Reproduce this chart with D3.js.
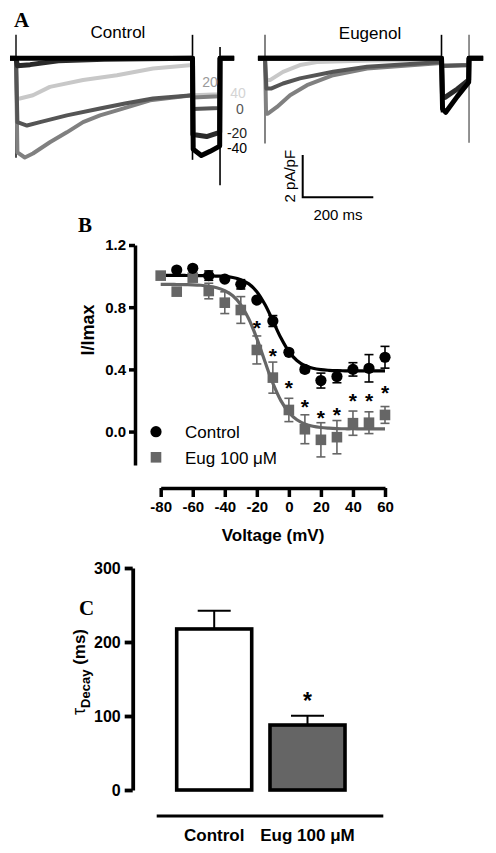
<!DOCTYPE html>
<html><head><meta charset="utf-8">
<script src="https://cdn.jsdelivr.net/npm/d3@7"></script>
<style>
body{margin:0;background:#fff}
svg{display:block}
text{font-family:"Liberation Sans",Arial,sans-serif}
</style>
</head><body>
<svg id="chart" width="496" height="853"></svg>
<script>
// ================= DATA =================
// Panel A: current traces (time in ms, current in pA/pF)
const traceLabels = ["40", "20", "0", "-20", "-40"];
const traceColors = ["#c8c8c8", "#808080", "#555555", "#2a2a2a", "#000000"];
const labelColors = ["#d4d4d4", "#9a9a9a", "#555555", "#222222", "#000000"];

const ctrlTraces = [
  [[-17,0],[0,0],[3,-1.9],[11,-1.9],[48,-1.75],[96,-1.35],[190,-1.03],[286,-0.8],[388,-0.48],[500,-0.32],[501,-1.75],[577,-1.7],[578,0],[618,0]],
  [[-17,0],[0,0],[4,-4.45],[25,-4.69],[48,-4.5],[96,-3.97],[144,-3.5],[190,-3.02],[238,-2.7],[286,-2.46],[380,-1.99],[500,-1.75],[501,-1.85],[577,-1.8],[578,0],[618,0]],
  [[-17,0],[0,0],[4,-3.02],[31,-3.18],[68,-3.02],[144,-2.7],[238,-2.37],[309,-2.14],[388,-1.9],[500,-1.75],[501,-2.4],[577,-2.35],[578,0],[618,0]],
  [[-17,0],[0,0],[4,-0.35],[40,-0.3],[120,-0.12],[250,-0.05],[500,0],[501,-3.6],[540,-3.7],[577,-3.5],[578,0],[618,0]],
  [[-17,0],[0,0],[500,0],[502,-4.3],[525,-4.6],[550,-4.4],[577,-4.15],[578,0],[618,0]]
];
const eugTraces = [
  [[-20,0],[0,0],[4,-1.03],[14,-1.03],[51,-0.64],[99,-0.32],[147,-0.18],[300,-0.1],[500,-0.08],[501,-0.32],[577,-0.3],[578,0],[618,0]],
  [[-20,0],[0,0],[3,-2.62],[8,-2.62],[34,-2.3],[71,-1.75],[119,-1.27],[193,-0.8],[289,-0.48],[500,-0.22],[501,-0.35],[577,-0.3],[578,0],[618,0]],
  [[-20,0],[0,0],[4,-1.43],[17,-1.43],[51,-1.19],[99,-0.95],[193,-0.64],[289,-0.4],[500,-0.18],[501,-0.37],[577,-0.33],[578,0],[618,0]],
  [[-20,0],[0,0],[500,0],[503,-1.8],[510,-1.85],[545,-1.45],[577,-1.03],[578,0],[618,0]],
  [[-20,0],[0,0],[500,0],[503,-2.4],[512,-2.55],[545,-1.8],[577,-1.13],[578,0],[618,0]]
];
// capacitive transients: [time, top current, bottom current]
const ctrlTransients = [[0,1.11,-4.7],[500,1.11,-4.8],[578,0.54,-6.0]];
const eugTransients  = [[0,1.11,-4.03],[500,1.11,-2.56],[578,1.11,-3.99]];
const transientColorsCtrl = ["#222","#000","#000"];
const transientColorsEug  = ["#666","#000","#777"];

// Panel B: I/Imax vs voltage
const ctrlVolt = [-70,-60,-50,-40,-30,-20,-10,0,10,20,30,40,50,60];
const ctrlMean = [1.039,1.05,1.003,0.981,0.947,0.846,0.711,0.51,0.40,0.328,0.354,0.40,0.407,0.478];
const ctrlErr  = [0.01,0.015,0.03,0.01,0.03,0.015,0.035,0.015,0.02,0.048,0.04,0.043,0.088,0.07];
const eugVolt  = [-80,-70,-60,-50,-40,-30,-20,-10,0,10,20,30,40,50,60];
const eugMean  = [1.003,0.90,0.99,0.904,0.829,0.782,0.525,0.347,0.139,0.015,-0.053,-0.036,0.054,0.057,0.107];
const eugErr   = [0.01,0.01,0.01,0.05,0.07,0.086,0.09,0.10,0.075,0.093,0.11,0.107,0.078,0.07,0.054];
const starVolt = [-20,-10,0,10,20,30,40,50,60];
const fitVolt  = [-80,-75,-70,-65,-60,-55,-50,-45,-40,-35,-30,-25,-20,-15,-10,-5,0,5,10,15,20,25,30,35,40,45,50,55,60];
const ctrlFit  = [1.005,1.005,1.005,1.004,1.004,1.003,1.003,1.0,0.998,0.991,0.977,0.95,0.90,0.819,0.713,0.603,0.515,0.457,0.424,0.407,0.398,0.394,0.392,0.391,0.39,0.39,0.39,0.39,0.39];
const eugFit   = [0.947,0.947,0.946,0.945,0.944,0.941,0.935,0.925,0.906,0.873,0.815,0.724,0.599,0.452,0.311,0.199,0.123,0.076,0.049,0.034,0.026,0.022,0.0195,0.018,0.018,0.017,0.017,0.017,0.017];
const voltTicks = [-80,-60,-40,-20,0,20,40,60];
const ratioTicks = [0.0,0.4,0.8,1.2];

// Panel C: tau decay
const barCats = ["Control","Eug 100 \u03bcM"];
const barMean = [217.6,87.8];
const barErr  = [24.5,12.4];
const barFill = ["#ffffff","#656565"];
const tauTicks = [0,100,200,300];

// ================= DRAW =================
const svg = d3.select("#chart");
svg.append("rect").attr("width",496).attr("height",853).attr("fill","#fff");

// ---------- Panel A ----------
const yA = d3.scaleLinear().domain([0,-2]).range([58.3,100.6]);
const xCtrl = d3.scaleLinear().domain([0,500]).range([16,192.5]);
const xEug  = d3.scaleLinear().domain([0,500]).range([265,441.5]);

function drawTraces(traces, transients, tColors, xs){
  const g = svg.append("g");
  const line = d3.line().x(d=>xs(d[0])).y(d=>yA(d[1]));
  transients.forEach((t,i)=>{
    g.append("line").attr("x1",xs(t[0])).attr("x2",xs(t[0]))
      .attr("y1",yA(t[1])).attr("y2",yA(t[2]))
      .attr("stroke",tColors[i]).attr("stroke-width",1.6);
  });
  traces.forEach((tr,i)=>{
    g.append("path").attr("d",line(tr)).attr("fill","none")
      .attr("stroke",traceColors[i]).attr("stroke-width",i>=3?5:4)
      .attr("stroke-linejoin","round");
  });
}
drawTraces(ctrlTraces, ctrlTransients, transientColorsCtrl, xCtrl);
drawTraces(eugTraces, eugTransients, transientColorsEug, xEug);

svg.append("text").attr("x",118).attr("y",38).attr("text-anchor","middle")
  .attr("font-size",17).text("Control");
svg.append("text").attr("x",370).attr("y",39).attr("text-anchor","middle")
  .attr("font-size",17).text("Eugenol");

// trace labels
const labelPos = [[238,98],[210,87],[240,114],[237,138],[237,153]];
traceLabels.forEach((l,i)=>{
  svg.append("text").attr("x",labelPos[i][0]).attr("y",labelPos[i][1])
    .attr("text-anchor","middle").attr("font-size",14)
    .attr("fill",labelColors[i]).text(l);
});

// scale bar: 2 pA/pF and 200 ms
const sbX = 302.7, sbY = 197.3;
const xLen = xEug(200)-xEug(0), yLen = yA(-2)-yA(0);
svg.append("path").attr("d",`M${sbX},${sbY-yLen}V${sbY}H${sbX+xLen}`)
  .attr("fill","none").attr("stroke","#000").attr("stroke-width",2);
svg.append("text").attr("transform",`translate(${sbX-8},${sbY-yLen/2}) rotate(-90)`)
  .attr("text-anchor","middle").attr("font-size",15).text("2 pA/pF");
svg.append("text").attr("x",sbX+xLen/2).attr("y",220).attr("text-anchor","middle")
  .attr("font-size",15).text("200 ms");

// panel letters
svg.append("text").attr("x",14).attr("y",27)
  .attr("font-weight","bold").attr("font-size",21).style("font-family","'Liberation Serif',serif").text("A");
svg.append("text").attr("x",78).attr("y",232)
  .attr("font-weight","bold").attr("font-size",21).style("font-family","'Liberation Serif',serif").text("B");
svg.append("text").attr("x",79).attr("y",615)
  .attr("font-weight","bold").attr("font-size",21).style("font-family","'Liberation Serif',serif").text("C");

// ---------- Panel B ----------
const xB = d3.scaleLinear().domain([-80,60]).range([160.7,385]);
const yB = d3.scaleLinear().domain([-0.215,1.2]).range([465,245]);

function styleAxis(g, w){
  g.select(".domain").attr("stroke","#000").attr("stroke-width",w);
  g.selectAll(".tick line").attr("stroke","#000").attr("stroke-width",w);
  g.selectAll(".tick text").attr("fill","#000").attr("font-weight","bold")
    .style("font-family","'Liberation Sans',Arial,sans-serif");
}
const gyB = svg.append("g").attr("transform","translate(135,0)")
  .call(d3.axisLeft(yB).tickValues(ratioTicks).tickFormat(d=>d.toFixed(1)).tickSize(6).tickSizeOuter(0).tickPadding(3));
styleAxis(gyB,3.5);
gyB.selectAll(".tick text").attr("font-size",15);
const gxB = svg.append("g").attr("transform","translate(0,488)")
  .call(d3.axisBottom(xB).tickValues(voltTicks).tickFormat(d=>String(d)).tickSize(9).tickSizeOuter(0).tickPadding(4));
styleAxis(gxB,3.5);
gxB.selectAll(".tick text").attr("font-size",15);
svg.append("text").attr("x",273).attr("y",541).attr("text-anchor","middle")
  .attr("font-weight","bold").attr("font-size",17).text("Voltage (mV)");
svg.append("text").attr("transform","translate(94,330) rotate(-90)").attr("text-anchor","middle")
  .attr("font-weight","bold").attr("font-size",18).text("I/Imax");

// fit curves
const fitLine = d3.line().x(d=>xB(d[0])).y(d=>yB(d[1])).curve(d3.curveCatmullRom);
svg.append("path").attr("d",fitLine(fitVolt.map((v,i)=>[v,eugFit[i]])))
  .attr("fill","none").attr("stroke","#666").attr("stroke-width",3.2);
svg.append("path").attr("d",fitLine(fitVolt.map((v,i)=>[v,ctrlFit[i]])))
  .attr("fill","none").attr("stroke","#000").attr("stroke-width",3.2);

function errBars(volts, means, errs, color){
  const g = svg.append("g").attr("stroke",color).attr("stroke-width",1.6);
  volts.forEach((v,i)=>{
    const x = xB(v), y1 = yB(means[i]-errs[i]), y2 = yB(means[i]+errs[i]);
    g.append("line").attr("x1",x).attr("x2",x).attr("y1",y1).attr("y2",y2);
    g.append("line").attr("x1",x-4.5).attr("x2",x+4.5).attr("y1",y1).attr("y2",y1);
    g.append("line").attr("x1",x-4.5).attr("x2",x+4.5).attr("y1",y2).attr("y2",y2);
  });
}
errBars(eugVolt, eugMean, eugErr, "#666");
svg.append("g").selectAll("rect").data(eugVolt).join("rect")
  .attr("x",d=>xB(d)-5.3).attr("y",(d,i)=>yB(eugMean[i])-5.3)
  .attr("width",10.6).attr("height",10.6).attr("fill","#666");
errBars(ctrlVolt, ctrlMean, ctrlErr, "#000");
svg.append("g").selectAll("circle").data(ctrlVolt).join("circle")
  .attr("cx",d=>xB(d)).attr("cy",(d,i)=>yB(ctrlMean[i])).attr("r",5.6).attr("fill","#000");

// significance stars
svg.append("g").selectAll("text").data(starVolt).join("text")
  .attr("x",d=>xB(d)).attr("y",d=>yB(eugMean[eugVolt.indexOf(d)])-26+11)
  .attr("text-anchor","middle").attr("font-size",21).attr("font-weight","bold").text("*");

// legend
svg.append("circle").attr("cx",156).attr("cy",431.7).attr("r",5.6).attr("fill","#000");
svg.append("rect").attr("x",150.7).attr("y",452).attr("width",10.6).attr("height",10.6).attr("fill","#666");
svg.append("text").attr("x",185).attr("y",437.5).attr("font-size",17).text("Control");
svg.append("text").attr("x",185).attr("y",463.5).attr("font-size",17).text("Eug 100 \u03bcM");

// ---------- Panel C ----------
const yC = d3.scaleLinear().domain([0,300]).range([790,568]);
const xC = d3.scaleBand().domain(barCats).range([176.7,345]).paddingInner(0.196).paddingOuter(0);
const gyC = svg.append("g").attr("transform","translate(132.7,0)")
  .call(d3.axisLeft(yC).tickValues(tauTicks).tickSize(8).tickSizeOuter(0).tickPadding(4));
styleAxis(gyC,3.8);
gyC.selectAll(".tick text").attr("font-size",16);

const tauLabel = svg.append("text").attr("transform","translate(85,672) rotate(-90)")
  .attr("text-anchor","middle");
tauLabel.append("tspan").attr("font-size",18).text("\u03c4");
tauLabel.append("tspan").attr("font-size",13).attr("font-weight","bold").attr("dy",5).text("Decay");
tauLabel.append("tspan").attr("font-size",17).attr("font-weight","bold").attr("dy",-5).text(" (ms)");

barCats.forEach((c,i)=>{
  const x = xC(c), w = xC.bandwidth(), cx = x + w/2;
  svg.append("line").attr("x1",cx).attr("x2",cx).attr("y1",yC(barMean[i])).attr("y2",yC(barMean[i]+barErr[i]))
    .attr("stroke","#000").attr("stroke-width",2);
  svg.append("line").attr("x1",cx-16.5).attr("x2",cx+16.5).attr("y1",yC(barMean[i]+barErr[i])).attr("y2",yC(barMean[i]+barErr[i]))
    .attr("stroke","#000").attr("stroke-width",2);
  svg.append("rect").attr("x",x).attr("y",yC(barMean[i])).attr("width",w).attr("height",yC(0)-yC(barMean[i]))
    .attr("fill",barFill[i]).attr("stroke","#000").attr("stroke-width",3.6);
  svg.append("text").attr("x",cx).attr("y",841).attr("text-anchor","middle")
    .attr("font-weight","bold").attr("font-size",17).text(c);
});
svg.append("text").attr("x",xC(barCats[1])+xC.bandwidth()/2).attr("y",yC(barMean[1]+barErr[1])-19+12)
  .attr("text-anchor","middle").attr("font-weight","bold").attr("font-size",23).text("*");
svg.append("line").attr("x1",156.7).attr("x2",383.3).attr("y1",816).attr("y2",816)
  .attr("stroke","#000").attr("stroke-width",3.2);
</script>
</body></html>
